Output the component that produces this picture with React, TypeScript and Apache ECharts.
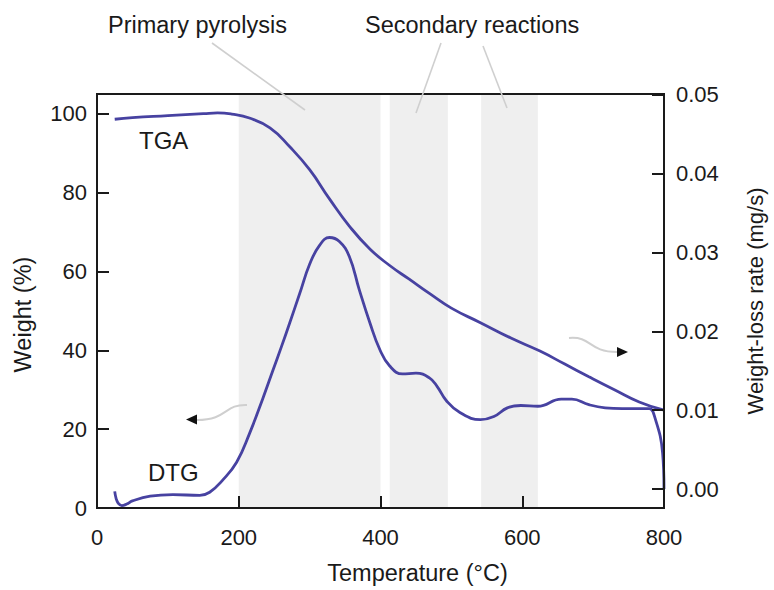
import React, { useEffect, useRef } from 'react';
import * as echarts from 'echarts';

// TGA: weight (%) vs temperature (°C)
const tgaTemp = [25, 50, 100, 150, 170, 190, 215, 244, 272, 300, 328, 356, 385, 413, 440, 470, 500, 541, 584, 625, 660, 694, 730, 765, 800];
const tgaWeight = [98.6, 99.0, 99.5, 100.0, 100.2, 99.9, 98.9, 96.4, 91.6, 85.8, 78.4, 71.5, 65.7, 61.5, 58.1, 54.3, 50.7, 47.0, 43.1, 39.8, 36.5, 33.3, 30.0, 26.9, 24.8];

// DTG: weight-loss rate (mg/s) vs temperature (°C)
const dtgTemp = [25, 27, 30, 35, 42, 50, 75, 107, 145, 159, 177, 197, 215, 234, 248, 260, 272, 286, 300, 314, 328, 342, 356, 370, 385, 399, 413, 431, 450, 469, 480, 493, 512, 541, 560, 579, 598, 622, 655, 670, 694, 717, 741, 779, 786, 798, 800];
const dtgRate = [-0.0003, -0.0012, -0.0018, -0.0021, -0.0019, -0.0015, -0.0009, -0.0007, -0.0008, -0.0004, 0.0011, 0.0034, 0.0070, 0.0115, 0.0150, 0.0180, 0.0211, 0.0248, 0.0285, 0.0309, 0.0319, 0.0314, 0.0295, 0.0253, 0.0211, 0.0177, 0.0156, 0.0146, 0.0147, 0.0141, 0.0130, 0.0112, 0.0097, 0.0088, 0.0092, 0.0103, 0.0106, 0.0105, 0.0114, 0.0114, 0.0107, 0.0103, 0.0102, 0.0102, 0.0094, 0.0046, 0.0];

// Shaded reaction regions (°C)
const bands = [[200, 400], [413, 495], [542, 622]];

const weightTicks = [0, 20, 40, 60, 80, 100];
const rateTicks = [0, 0.01, 0.02, 0.03, 0.04, 0.05];

const FONT = '"Liberation Sans", Arial, Helvetica, sans-serif';
const LINE = '#4742a1';
const INK = '#1a1a1a';
const GRAY = '#cfcfcf';

export default function App() {
  const ref = useRef<HTMLDivElement>(null);
  useEffect(() => {
    const chart = echarts.init(ref.current!, null, { renderer: 'svg' });
    const axisLine = { show: true, lineStyle: { color: INK, width: 2 } };
    const tick = { show: true, inside: true, length: 12, lineStyle: { color: INK, width: 2 } };
    chart.setOption({
      animation: false,
      backgroundColor: '#ffffff',
      textStyle: { fontFamily: FONT },
      grid: {
        left: 97, right: 109, top: 94, bottom: 81,
        show: true, borderColor: INK, borderWidth: 2, backgroundColor: 'transparent', z: 12,
      },
      xAxis: {
        type: 'value', min: 0, max: 800, interval: 200, z: 12,
        axisLine, axisTick: tick, splitLine: { show: false },
        axisLabel: { fontSize: 22, color: INK, margin: 18, fontFamily: FONT },
        name: 'Temperature (°C)', nameLocation: 'middle', nameGap: 53,
        nameTextStyle: { fontSize: 23.5, color: INK, fontFamily: FONT, padding: [0, 0, 0, 74] },
      },
      yAxis: [
        {
          type: 'value', min: 0, max: 105, position: 'left', z: 12,
          axisLine, splitLine: { show: false },
          axisTick: { ...tick, customValues: weightTicks },
          axisLabel: { fontSize: 22, color: INK, margin: 10, fontFamily: FONT, customValues: weightTicks },
          name: 'Weight (%)', nameLocation: 'middle', nameRotate: 90, nameGap: 62,
          nameTextStyle: { fontSize: 23.5, color: INK, fontFamily: FONT, padding: [0, 27, 0, 0] },
        },
        {
          type: 'value', min: -0.0024, max: 0.0501, position: 'right', z: 12,
          axisLine, splitLine: { show: false },
          axisTick: { ...tick, customValues: rateTicks },
          axisLabel: {
            fontSize: 22, color: INK, margin: 12, fontFamily: FONT, customValues: rateTicks,
            formatter: (v: number) => v.toFixed(2),
          },
          name: 'Weight-loss rate (mg/s)', nameLocation: 'middle', nameRotate: 90, nameGap: 80,
          nameTextStyle: { fontSize: 22, color: INK, fontFamily: FONT },
        },
      ],
      series: [
        {
          name: 'Regions', type: 'line', data: [], z: 1, silent: true,
          markArea: {
            silent: true,
            itemStyle: { color: '#efefef' },
            data: bands.map(([a, b]) => [{ xAxis: a }, { xAxis: b }]),
          },
        },
        {
          name: 'TGA', type: 'line', yAxisIndex: 0, z: 10,
          data: tgaTemp.map((t, i) => [t, tgaWeight[i]]),
          showSymbol: false, smooth: 0.5,
          lineStyle: { color: LINE, width: 2.8 },
        },
        {
          name: 'DTG', type: 'line', yAxisIndex: 1, z: 10,
          data: dtgTemp.map((t, i) => [t, dtgRate[i]]),
          showSymbol: false, smooth: 0.45,
          lineStyle: { color: LINE, width: 2.8 },
        },
      ],
      graphic: [
        { type: 'text', x: 108, y: 25, style: { text: 'Primary pyrolysis', fontSize: 23.5, fontFamily: FONT, fill: INK, verticalAlign: 'middle' } },
        { type: 'text', x: 365, y: 25, style: { text: 'Secondary reactions', fontSize: 23.5, fontFamily: FONT, fill: INK, verticalAlign: 'middle' } },
        { type: 'text', x: 139, y: 140, z: 20, style: { text: 'TGA', fontSize: 24, fontFamily: FONT, fill: INK, verticalAlign: 'middle' } },
        { type: 'text', x: 148, y: 472, z: 20, style: { text: 'DTG', fontSize: 24, fontFamily: FONT, fill: INK, verticalAlign: 'middle' } },
        { type: 'line', z: 20, shape: { x1: 212, y1: 43, x2: 305, y2: 110 }, style: { stroke: GRAY, lineWidth: 1.6 } },
        { type: 'line', z: 20, shape: { x1: 441, y1: 43, x2: 416, y2: 113 }, style: { stroke: GRAY, lineWidth: 1.6 } },
        { type: 'line', z: 20, shape: { x1: 483, y1: 46, x2: 507, y2: 108 }, style: { stroke: GRAY, lineWidth: 1.6 } },
        // left-pointing arrow (near DTG)
        { type: 'bezierCurve', z: 20, shape: { x1: 247, y1: 405, cpx1: 224, cpy1: 404, cpx2: 228, cpy2: 420, x2: 197, y2: 420 }, style: { stroke: GRAY, lineWidth: 2, fill: 'none' } },
        { type: 'polygon', z: 20, shape: { points: [[186, 419.5], [197, 414.5], [197, 424.5]] }, style: { fill: '#111' } },
        // right-pointing arrow (near TGA)
        { type: 'bezierCurve', z: 20, shape: { x1: 569, y1: 338, cpx1: 592, cpy1: 336, cpx2: 588, cpy2: 352, x2: 617, y2: 352 }, style: { stroke: GRAY, lineWidth: 2, fill: 'none' } },
        { type: 'polygon', z: 20, shape: { points: [[628, 352], [617, 347], [617, 357]] }, style: { fill: '#111' } },
      ],
    });
    return () => chart.dispose();
  }, []);
  return <div ref={ref} style={{ position: 'absolute', left: 0, top: 0, width: 774, height: 590 }} />;
}
